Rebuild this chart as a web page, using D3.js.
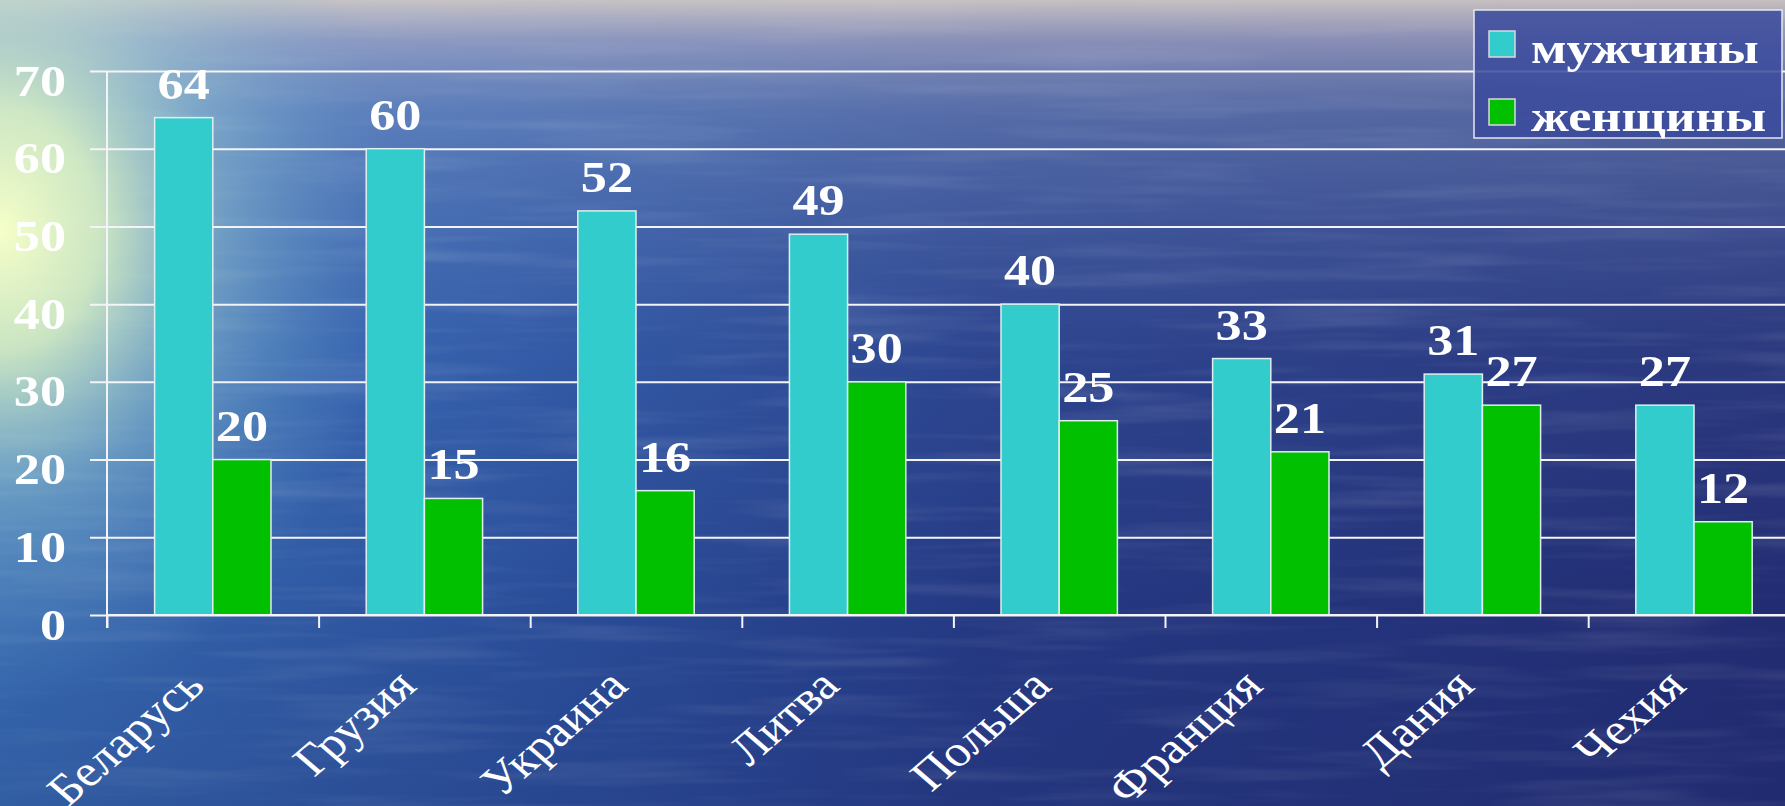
<!DOCTYPE html>
<html>
<head>
<meta charset="utf-8">
<script src="https://d3js.org/d3.v7.min.js"></script>
<style>
  body { margin: 0; background: #26357f; }
  svg { display: block; }
  .lbl { font-family: "Liberation Serif", "Times New Roman", serif; fill: #fff; }
</style>
</head>
<body>
<script>
// data
var countries = ["Беларусь", "Грузия", "Украина", "Литва", "Польша", "Франция", "Дания", "Чехия"];
var seriesNames = ["мужчины", "женщины"];
var men = [64, 60, 52, 49, 40, 33, 31, 27];
var women = [20, 15, 16, 30, 25, 21, 27, 12];
var yTicks = [0, 10, 20, 30, 40, 50, 60, 70];
var colors = ["#33cccc", "#00c000"];

var W = 1785, H = 806;
var left = 107, step = 211.6, zeroY = 615, topY = 71;
var sx = 1.16; // text in the picture is a bit wide

var svg = d3.select("body").append("svg")
  .attr("width", W).attr("height", H);

// background: sea + sky haze + glow on the left
var defs = svg.append("defs");
var bg = defs.append("linearGradient").attr("id", "sea").attr("x1", 0).attr("y1", 0).attr("x2", 1).attr("y2", 0);
bg.append("stop").attr("offset", 0).attr("stop-color", "#3a74bd");
bg.append("stop").attr("offset", 0.3).attr("stop-color", "#2d55a3");
bg.append("stop").attr("offset", 0.55).attr("stop-color", "#263c88");
bg.append("stop").attr("offset", 1).attr("stop-color", "#232d74");

var sky = defs.append("linearGradient").attr("id", "sky").attr("x1", 0).attr("y1", 0).attr("x2", 0).attr("y2", 1);
sky.append("stop").attr("offset", 0).attr("stop-color", "#d8cfc8").attr("stop-opacity", 0.9);
sky.append("stop").attr("offset", 0.05).attr("stop-color", "#b4b4cc").attr("stop-opacity", 0.7);
sky.append("stop").attr("offset", 0.14).attr("stop-color", "#8fa6cf").attr("stop-opacity", 0.45);
sky.append("stop").attr("offset", 0.45).attr("stop-color", "#5f82c0").attr("stop-opacity", 0.12);
sky.append("stop").attr("offset", 0.75).attr("stop-color", "#1d2766").attr("stop-opacity", 0.15);
sky.append("stop").attr("offset", 1).attr("stop-color", "#1d2766").attr("stop-opacity", 0.3);

var glow = defs.append("radialGradient").attr("id", "glow")
  .attr("cx", 0).attr("cy", 0).attr("r", 1).attr("gradientUnits", "userSpaceOnUse")
  .attr("gradientTransform", "translate(0,230) scale(400,480)");
glow.append("stop").attr("offset", 0).attr("stop-color", "#f6ffc8").attr("stop-opacity", 1);
glow.append("stop").attr("offset", 0.25).attr("stop-color", "#e2f8c4").attr("stop-opacity", 0.85);
glow.append("stop").attr("offset", 0.55).attr("stop-color", "#a8d8d4").attr("stop-opacity", 0.4);
glow.append("stop").attr("offset", 1).attr("stop-color", "#6aa0d0").attr("stop-opacity", 0);

var f = defs.append("filter").attr("id", "waves").attr("x", 0).attr("y", 0).attr("width", 1).attr("height", 1);
f.append("feTurbulence").attr("type", "fractalNoise").attr("baseFrequency", "0.004 0.06").attr("numOctaves", 3).attr("seed", 4);
f.append("feColorMatrix").attr("type", "matrix")
  .attr("values", "0 0 0 0 1  0 0 0 0 1  0 0 0 0 1  1.6 0 0 0 -0.75");

svg.append("rect").attr("width", W).attr("height", H).attr("fill", "url(#sea)");
svg.append("rect").attr("width", W).attr("height", H).attr("filter", "url(#waves)").attr("opacity", 0.18);
svg.append("rect").attr("width", W).attr("height", H).attr("fill", "url(#sky)");
svg.append("rect").attr("width", W).attr("height", H).attr("fill", "url(#glow)");

// scales
var x0 = d3.scaleBand().domain(countries)
  .range([left, left + countries.length * step])
  .paddingInner(0.45).paddingOuter(0.225);
var x1 = d3.scaleBand().domain(seriesNames).range([0, x0.bandwidth()]);
var y = d3.scaleLinear().domain([0, 70]).range([zeroY, topY]);
var xb = d3.scaleLinear().domain([0, countries.length]).range([left, left + countries.length * step]);

// y axis with gridlines
var yAxis = svg.append("g").attr("transform", "translate(" + left + ",0)")
  .call(d3.axisLeft(y).tickValues(yTicks).tickSizeInner(-(W - left)).tickSizeOuter(0));
yAxis.select(".domain").remove();
yAxis.selectAll(".tick line").attr("x1", -17).attr("stroke", "#f4f4f8").attr("stroke-width", 2);
yAxis.selectAll(".tick text")
  .attr("class", "lbl").attr("x", 0).attr("dy", null)
  .attr("text-anchor", "end")
  .attr("transform", "translate(-41,24) scale(" + sx + ",1)")
  .style("font-size", "45px").style("font-weight", "bold");
svg.append("line").attr("x1", left).attr("x2", left).attr("y1", y(70)).attr("y2", zeroY + 13)
  .attr("stroke", "#f4f4f8").attr("stroke-width", 2);

// boundary ticks on x
var xt = svg.append("g").attr("transform", "translate(0," + zeroY + ")")
  .call(d3.axisBottom(xb).tickValues(d3.range(countries.length + 1)).tickFormat("").tickSize(13));
xt.select(".domain").remove();
xt.selectAll(".tick line").attr("stroke", "#f4f4f8").attr("stroke-width", 2);

// bars
var groups = svg.append("g").selectAll("g").data(countries).join("g")
  .attr("transform", function(d) { return "translate(" + x0(d) + ",0)"; });
groups.selectAll("rect")
  .data(function(d, i) { return [{ s: seriesNames[0], v: men[i] }, { s: seriesNames[1], v: women[i] }]; })
  .join("rect")
  .attr("x", function(d) { return x1(d.s); })
  .attr("y", function(d) { return y(d.v); })
  .attr("width", x1.bandwidth())
  .attr("height", function(d) { return zeroY - y(d.v); })
  .attr("fill", function(d, i) { return colors[i]; })
  .attr("stroke", "#dfeeee").attr("stroke-width", 1.5);

// value labels
groups.selectAll("text")
  .data(function(d, i) { return [{ s: seriesNames[0], v: men[i] }, { s: seriesNames[1], v: women[i] }]; })
  .join("text")
  .attr("class", "lbl")
  .attr("text-anchor", "middle")
  .attr("transform", function(d) {
    return "translate(" + (x1(d.s) + x1.bandwidth() / 2) + "," + (y(d.v) - 19) + ") scale(" + sx + ",1)";
  })
  .style("font-size", "45px").style("font-weight", "bold")
  .text(function(d) { return d.v; });

// zero line on top
svg.append("line").attr("x1", left).attr("x2", W).attr("y1", zeroY).attr("y2", zeroY)
  .attr("stroke", "#f4f4f8").attr("stroke-width", 2);

// category labels
var xAxis = svg.append("g").attr("transform", "translate(0," + zeroY + ")")
  .call(d3.axisBottom(x0).tickSize(0));
xAxis.select(".domain").remove();
xAxis.selectAll(".tick text")
  .attr("class", "lbl").attr("y", 0).attr("dy", null)
  .attr("text-anchor", "end")
  .attr("transform", "translate(-6,73) scale(" + sx + ",1) rotate(-45)")
  .style("font-size", "44px");

// legend
var lg = svg.append("g");
lg.append("rect").attr("x", 1474).attr("y", 10).attr("width", 308).attr("height", 128)
  .attr("fill", "#3a4a9c").attr("fill-opacity", 0.85)
  .attr("stroke", "#e6e6f0").attr("stroke-width", 1.5);
var items = lg.selectAll("g").data(seriesNames).join("g")
  .attr("transform", function(d, i) { return "translate(1489," + (31 + i * 68) + ")"; });
items.append("rect").attr("width", 26).attr("height", 26)
  .attr("fill", function(d, i) { return colors[i]; })
  .attr("stroke", "#d8d8e0").attr("stroke-width", 1.5);
items.append("text").attr("class", "lbl")
  .attr("transform", "translate(42,32) scale(" + sx + ",1)")
  .style("font-size", "45px").style("font-weight", "bold")
  .text(function(d) { return d; });
</script>
</body>
</html>
